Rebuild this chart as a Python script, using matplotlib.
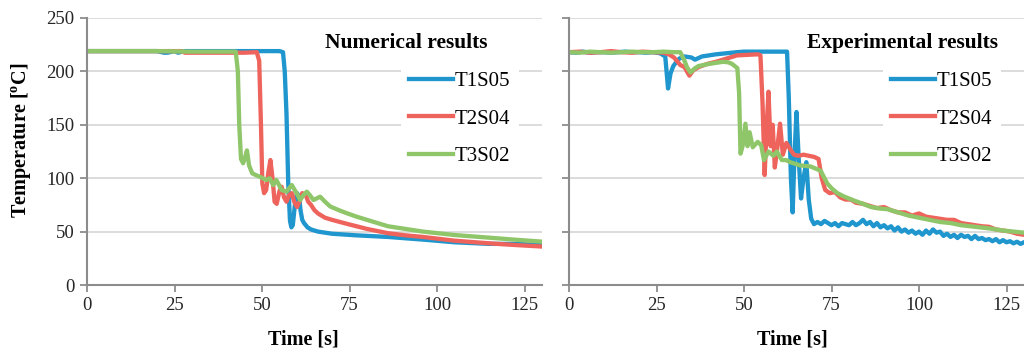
import matplotlib
matplotlib.use("Agg")
import matplotlib.pyplot as plt

plt.rcParams['font.family'] = 'Liberation Serif'
plt.rcParams['font.size'] = 13
plt.rcParams['mathtext.fontset'] = 'custom'
plt.rcParams['mathtext.rm'] = 'Liberation Serif'
plt.rcParams['mathtext.bf'] = 'Liberation Serif:bold'

# ---- numerical results ----
num_t1 = [0, 10, 20, 22, 23, 25, 26, 28, 40, 50, 55, 56, 56.5, 57, 57.5, 58, 58.4, 58.8, 59.4, 60,
          60.6, 61, 61.5, 62, 63, 64, 66, 70, 77, 86, 96, 105, 115, 122, 130]
num_T1 = [219, 219, 219, 217.5, 217.5, 219, 217.5, 219, 219, 219, 219, 218, 200, 160, 95, 60, 54, 56, 75, 86,
          83, 70, 61, 58, 54, 52, 50, 48, 46.5, 45, 42.5, 40, 38.5, 38.5, 37.5]

num_t2 = [0, 27, 28, 45, 48.5, 49.2, 49.7, 50.1, 50.6, 51.2, 51.8, 52.4, 53, 53.6, 54.2, 55, 55.6, 56.3,
          57, 57.7, 58.5, 59.2, 60, 60.7, 61.5, 62.4, 63.2, 64, 65, 66, 68, 70, 74, 77, 80, 86, 91, 96,
          105, 115, 122, 130]
num_T2 = [219, 219, 217.5, 217.5, 218, 210, 150, 95, 86, 89, 105, 117, 100, 78, 76, 88, 92, 82,
          78, 84, 86, 78, 73, 78, 86, 85, 78, 75, 70, 67, 63, 61, 57.5, 55, 52.5, 48.5, 46.5, 45,
          41.5, 39, 37.5, 36]

num_t3 = [0, 20, 30, 42.5, 43.1, 43.5, 44, 44.6, 45.2, 45.7, 46.3, 47.2, 48.2, 49.3, 50.2, 51.2, 52.2,
          53.2, 54.1, 55.6, 57, 58.5, 59.9, 60.9, 61.8, 62.8, 63.7, 64.7, 65.6, 66.6, 68, 69.5, 72,
          74, 77, 80, 86, 91, 96, 105, 115, 122, 130]
num_T3 = [219, 219, 218.5, 218.5, 200, 150, 118, 114, 120, 126, 112, 104.6, 103, 101.4, 100, 98.3, 99.9,
          93.6, 98.3, 89, 87.4, 93.6, 85.9, 79.6, 84, 87.4, 84, 79.6, 81, 82.7, 78, 73.5, 70,
          67.5, 64, 61, 55, 52.5, 50, 46.8, 44.3, 42.5, 40.6]

# ---- experimental results ----
exp_t1 = [0, 2, 4, 6, 8, 10, 12, 14, 16, 18, 20, 22, 24, 26, 27.5, 28.3, 29, 29.8, 30.5, 31.5, 33,
          35, 36, 38, 40, 42, 45, 48, 50, 55, 60, 62.3, 62.8, 63.4, 63.9, 64.4, 65.0, 65.6, 66.3,
          67.0, 67.8, 68.5, 69.2, 70,
          71, 72, 73, 74, 75, 76, 77, 78, 79, 80, 81, 82, 83, 84, 85, 86, 87, 88, 89, 90,
          91, 92, 93, 94, 95, 96, 97, 98, 99, 100, 101, 102, 103, 104, 105, 106, 107, 108, 109, 110,
          111, 112, 113, 114, 115, 116, 117, 118, 119, 120, 121, 122, 123, 124, 125, 126, 127, 128,
          129, 130]
exp_T1 = [218, 217.5, 218.5, 217.5, 218, 218, 217.5, 218, 218.5, 218, 218, 217.5, 218, 217, 214, 184,
          198, 205, 208, 212, 214, 213, 211, 214, 215, 216, 217, 218, 218.5, 218.5, 218.5, 218.5, 175,
          100, 68, 120, 162, 120, 81, 100, 115, 80, 62, 57,
          59, 57, 60, 58, 56, 58, 55, 58, 57, 56, 59, 56, 58, 61, 57, 59, 55, 58, 54, 56,
          53, 55, 51, 54, 50, 52, 49, 51, 48, 50, 47, 51, 48, 52, 49, 50, 46, 48, 45, 47,
          44, 47, 45, 46, 43, 46, 43, 44, 42, 43, 41, 43, 40, 42, 40, 41, 39, 40.5,
          38.5, 40]

exp_t2 = [0, 3, 6, 9, 12, 15, 18, 21, 24, 27, 28.5, 30, 31.8, 33, 34.4, 35.5, 37, 39.5, 42, 45, 48,
          51, 54, 54.7, 55.3, 55.9, 56.5, 57, 57.6, 58.2, 58.8, 59.4, 60.3, 61.1, 62.1, 63.2, 64.3,
          65.5, 67, 68.5, 70, 71.3, 72.2, 73.2, 74.5, 76, 77.5, 79, 80.5, 82, 84, 86, 88, 90, 92,
          94, 96, 98, 100, 102, 104, 106, 108, 110, 112, 114, 116, 118, 120, 122, 124, 126, 128, 130]
exp_T2 = [218, 218.5, 217.5, 218, 219, 218, 217.5, 218.5, 218, 217.5, 216, 213, 206, 204, 196, 201,
          204, 207, 209, 212, 215, 215.5, 216, 215, 170, 103, 150, 181, 130, 150, 110, 125, 151, 122,
          133, 127, 122, 121, 122, 121, 120, 118, 100, 89, 86, 87, 82, 80, 80, 77, 76, 74, 72, 73,
          70, 68, 68, 65, 67, 64, 63, 62, 61, 61, 58, 57, 56, 55, 54.5, 52, 51, 50, 48, 47]

exp_t3 = [0, 3, 6, 9, 12, 15, 18, 21, 24, 27, 30, 31.8, 33, 33.7, 34.7, 36, 37, 40, 42, 44, 45.5,
          46.6, 48.1, 48.6, 49.0, 49.6, 50.4, 51, 51.6, 52.5, 53.9, 54.9, 55.7, 57, 58.4, 59.4, 60.8,
          62, 63.2, 66, 69, 71.9, 73, 73.8, 75.2, 76.7, 78.5, 80, 81.5, 84, 86.3, 89, 91, 94, 97,
          100, 103, 106, 109, 112, 116, 120, 124, 127, 130]
exp_T3 = [218, 217.5, 218.5, 218, 217.5, 218, 218.5, 218, 218, 218.5, 218, 218, 210, 204, 199, 203,
          205, 207, 208, 209, 208.5, 207, 203, 180, 123, 130, 151, 130, 143, 129, 134, 131, 117, 125,
          121, 125, 117, 117, 115, 112, 111, 107, 100, 95, 90, 86, 83, 81, 79, 76, 73, 71.5, 71, 68,
          65, 63, 61, 59, 58, 56, 54.5, 53, 51, 50, 49]

labels = ['T1S05', 'T2S04', 'T3S02']
colors = ['#1f96cd', '#ee645c', '#8fc66a']
xticks = [0, 25, 50, 75, 100, 125]
yticks = [0, 50, 100, 150, 200, 250]

fig = plt.figure(figsize=(10.24, 3.57), dpi=100)
ax1 = fig.add_axes([87/1024, 72/357, 455/1024, 267/357])
ax2 = fig.add_axes([569/1024, 72/357, 455/1024, 267/357])

series = [
    (ax1, [(num_t1, num_T1), (num_t2, num_T2), (num_t3, num_T3)], 'Numerical results', 0.475),
    (ax2, [(exp_t1, exp_T1), (exp_t2, exp_T2), (exp_t3, exp_T3)], 'Experimental results', 0.49),
]

for ax, data, title, xlab_x in series:
    for (t, T), c, lab in zip(data, colors, labels):
        ax.plot(t, T, color=c, lw=3.1, label=lab, solid_joinstyle='round')
    ax.set_xlim(0, 130)
    ax.set_ylim(0, 250)
    ax.set_xticks(xticks)
    ax.set_yticks(yticks)
    ax.grid(axis='y', color='#d9d9d9', lw=1.3)
    ax.set_axisbelow(True)
    for s in ['top', 'right']:
        ax.spines[s].set_visible(False)
    for s in ['left', 'bottom']:
        ax.spines[s].set_color('#8c8c8c')
        ax.spines[s].set_linewidth(1.5)
    ax.tick_params(direction='out', length=5, width=1.3, color='#8c8c8c',
                   labelcolor='#262626', labelsize=13.5, pad=4)
    ax.set_xlabel('Time [s]', fontweight='bold', fontsize=14.5)
    ax.xaxis.set_label_coords(xlab_x, -0.165)
    ax.text(0.523, 0.905, title, transform=ax.transAxes, fontweight='bold',
            fontsize=15.5, ha='left', va='center')
    leg = ax.legend(loc='upper left', bbox_to_anchor=(0.69, 0.83), fontsize=15,
                    handlelength=2.1, handletextpad=0.1, labelspacing=0.85,
                    borderpad=0.4, borderaxespad=0, fancybox=False,
                    facecolor='white', edgecolor='none', framealpha=1)

ax1.set_ylabel(r'Temperature [$^{\mathbf{o}}$C]', fontweight='bold', fontsize=14.5)
ax1.yaxis.set_label_coords(-0.118, 0.54)
ax2.tick_params(axis='y', labelleft=False)

fig.savefig('out.png', dpi=100)
